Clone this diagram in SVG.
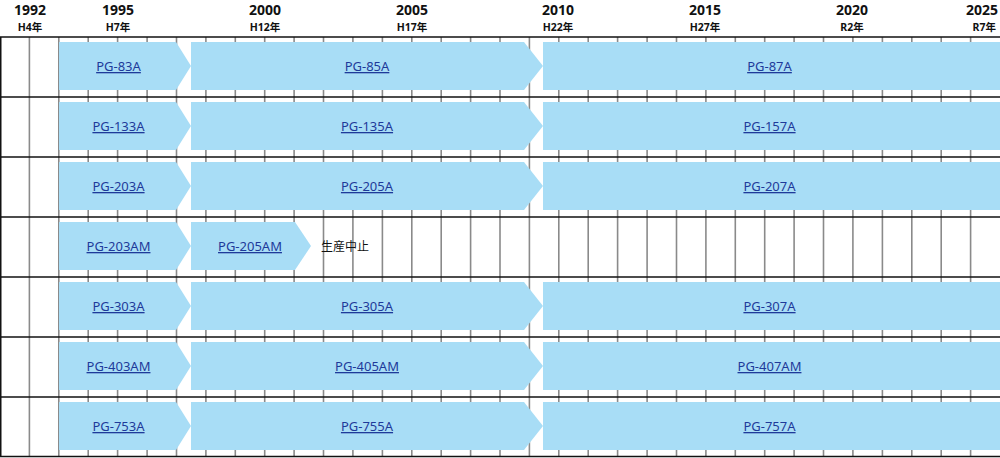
<svg xmlns="http://www.w3.org/2000/svg" width="1000" height="458" viewBox="0 0 1000 458">
<style>
.yr{font-family:"Noto Sans","Liberation Sans",sans-serif;font-weight:bold;font-size:14px;fill:#111;text-anchor:middle}
.era{font-family:"Noto Sans","Noto Sans CJK JP",sans-serif;font-weight:bold;font-size:10.5px;fill:#111;text-anchor:middle}
.bar{fill:#a8ddf6}
.lbl{font-family:"Noto Sans","Liberation Sans",sans-serif;font-size:13px;fill:#1e3a9a;text-anchor:middle;text-decoration:underline}
.note{font-family:"Noto Sans CJK JP",sans-serif;font-size:12px;fill:#111}
.v{stroke:#8a8a8a;stroke-width:1.6}
.h{stroke:#111;stroke-width:1.5}
</style>
<rect width="1000" height="458" fill="#fff"/>
<g id="header">
<text class="yr" x="30" y="15">1992</text><text class="era" x="30" y="31">H4年</text>
<text class="yr" x="118" y="15">1995</text><text class="era" x="118" y="31">H7年</text>
<text class="yr" x="265" y="15">2000</text><text class="era" x="265" y="31">H12年</text>
<text class="yr" x="412" y="15">2005</text><text class="era" x="412" y="31">H17年</text>
<text class="yr" x="558" y="15">2010</text><text class="era" x="558" y="31">H22年</text>
<text class="yr" x="705" y="15">2015</text><text class="era" x="705" y="31">H27年</text>
<text class="yr" x="852" y="15">2020</text><text class="era" x="852" y="31">R2年</text>
<text class="yr" x="998" y="15" style="text-anchor:end">2025</text><text class="era" x="996" y="31" style="text-anchor:end">R7年</text>
</g>
<g id="grid">
<line class="v" x1="29.4" y1="37" x2="29.4" y2="457"/>
<line class="v" x1="58.8" y1="37" x2="58.8" y2="457"/>
<line class="v" x1="88.2" y1="37" x2="88.2" y2="457"/>
<line class="v" x1="117.6" y1="37" x2="117.6" y2="457"/>
<line class="v" x1="147.1" y1="37" x2="147.1" y2="457"/>
<line class="v" x1="176.5" y1="37" x2="176.5" y2="457"/>
<line class="v" x1="205.9" y1="37" x2="205.9" y2="457"/>
<line class="v" x1="235.3" y1="37" x2="235.3" y2="457"/>
<line class="v" x1="264.7" y1="37" x2="264.7" y2="457"/>
<line class="v" x1="294.1" y1="37" x2="294.1" y2="457"/>
<line class="v" x1="323.5" y1="37" x2="323.5" y2="457"/>
<line class="v" x1="352.9" y1="37" x2="352.9" y2="457"/>
<line class="v" x1="382.4" y1="37" x2="382.4" y2="457"/>
<line class="v" x1="411.8" y1="37" x2="411.8" y2="457"/>
<line class="v" x1="441.2" y1="37" x2="441.2" y2="457"/>
<line class="v" x1="470.6" y1="37" x2="470.6" y2="457"/>
<line class="v" x1="500" y1="37" x2="500" y2="457"/>
<line class="v" x1="529.4" y1="37" x2="529.4" y2="457"/>
<line class="v" x1="558.8" y1="37" x2="558.8" y2="457"/>
<line class="v" x1="588.2" y1="37" x2="588.2" y2="457"/>
<line class="v" x1="617.6" y1="37" x2="617.6" y2="457"/>
<line class="v" x1="647.1" y1="37" x2="647.1" y2="457"/>
<line class="v" x1="676.5" y1="37" x2="676.5" y2="457"/>
<line class="v" x1="705.9" y1="37" x2="705.9" y2="457"/>
<line class="v" x1="735.3" y1="37" x2="735.3" y2="457"/>
<line class="v" x1="764.7" y1="37" x2="764.7" y2="457"/>
<line class="v" x1="794.1" y1="37" x2="794.1" y2="457"/>
<line class="v" x1="823.5" y1="37" x2="823.5" y2="457"/>
<line class="v" x1="852.9" y1="37" x2="852.9" y2="457"/>
<line class="v" x1="882.4" y1="37" x2="882.4" y2="457"/>
<line class="v" x1="911.8" y1="37" x2="911.8" y2="457"/>
<line class="v" x1="941.2" y1="37" x2="941.2" y2="457"/>
<line class="v" x1="970.6" y1="37" x2="970.6" y2="457"/>
<line class="h" x1="0" y1="37" x2="1000" y2="37"/>
<line class="h" x1="0" y1="97" x2="1000" y2="97"/>
<line class="h" x1="0" y1="157" x2="1000" y2="157"/>
<line class="h" x1="0" y1="217" x2="1000" y2="217"/>
<line class="h" x1="0" y1="277" x2="1000" y2="277"/>
<line class="h" x1="0" y1="337" x2="1000" y2="337"/>
<line class="h" x1="0" y1="397" x2="1000" y2="397"/>
<line class="h" x1="0" y1="456.5" x2="1000" y2="456.5"/>
<line class="h" x1="0.75" y1="37" x2="0.75" y2="457"/>
</g>
<g id="connectors"></g>
<g id="row1">
<g id="pg83a"><polygon class="bar" points="59,42 176,42 191,66 176,90 59,90"/><text class="lbl" x="118.5" y="71">PG-83A</text></g>
<g id="pg85a"><polygon class="bar" points="191,42 524,42 543,66 524,90 191,90"/><text class="lbl" x="367" y="71">PG-85A</text></g>
<g id="pg87a"><rect class="bar" x="543" y="42" width="457" height="48"/><text class="lbl" x="769.5" y="71">PG-87A</text></g>
</g>
<g id="row2">
<g id="pg133a"><polygon class="bar" points="59,102 176,102 191,126 176,150 59,150"/><text class="lbl" x="118.5" y="131">PG-133A</text></g>
<g id="pg135a"><polygon class="bar" points="191,102 524,102 543,126 524,150 191,150"/><text class="lbl" x="367" y="131">PG-135A</text></g>
<g id="pg157a"><rect class="bar" x="543" y="102" width="457" height="48"/><text class="lbl" x="769.5" y="131">PG-157A</text></g>
</g>
<g id="row3">
<g id="pg203a"><polygon class="bar" points="59,162 176,162 191,186 176,210 59,210"/><text class="lbl" x="118.5" y="191">PG-203A</text></g>
<g id="pg205a"><polygon class="bar" points="191,162 524,162 543,186 524,210 191,210"/><text class="lbl" x="367" y="191">PG-205A</text></g>
<g id="pg207a"><rect class="bar" x="543" y="162" width="457" height="48"/><text class="lbl" x="769.5" y="191">PG-207A</text></g>
</g>
<g id="row4">
<g id="pg203am"><polygon class="bar" points="59,222 176,222 191,246 176,270 59,270"/><text class="lbl" x="118.5" y="251">PG-203AM</text></g>
<g id="pg205am"><polygon class="bar" points="191,222 295,222 311,246 295,270 191,270"/><text class="lbl" x="250" y="251">PG-205AM</text></g>
<g id="stop"><text class="note" x="321" y="251">生産中止</text></g>
</g>
<g id="row5">
<g id="pg303a"><polygon class="bar" points="59,282 176,282 191,306 176,330 59,330"/><text class="lbl" x="118.5" y="311">PG-303A</text></g>
<g id="pg305a"><polygon class="bar" points="191,282 524,282 543,306 524,330 191,330"/><text class="lbl" x="367" y="311">PG-305A</text></g>
<g id="pg307a"><rect class="bar" x="543" y="282" width="457" height="48"/><text class="lbl" x="769.5" y="311">PG-307A</text></g>
</g>
<g id="row6">
<g id="pg403am"><polygon class="bar" points="59,342 176,342 191,366 176,390 59,390"/><text class="lbl" x="118.5" y="371">PG-403AM</text></g>
<g id="pg405am"><polygon class="bar" points="191,342 524,342 543,366 524,390 191,390"/><text class="lbl" x="367" y="371">PG-405AM</text></g>
<g id="pg407am"><rect class="bar" x="543" y="342" width="457" height="48"/><text class="lbl" x="769.5" y="371">PG-407AM</text></g>
</g>
<g id="row7">
<g id="pg753a"><polygon class="bar" points="59,402 176,402 191,426 176,450 59,450"/><text class="lbl" x="118.5" y="431">PG-753A</text></g>
<g id="pg755a"><polygon class="bar" points="191,402 524,402 543,426 524,450 191,450"/><text class="lbl" x="367" y="431">PG-755A</text></g>
<g id="pg757a"><rect class="bar" x="543" y="402" width="457" height="48"/><text class="lbl" x="769.5" y="431">PG-757A</text></g>
</g>
</svg>
